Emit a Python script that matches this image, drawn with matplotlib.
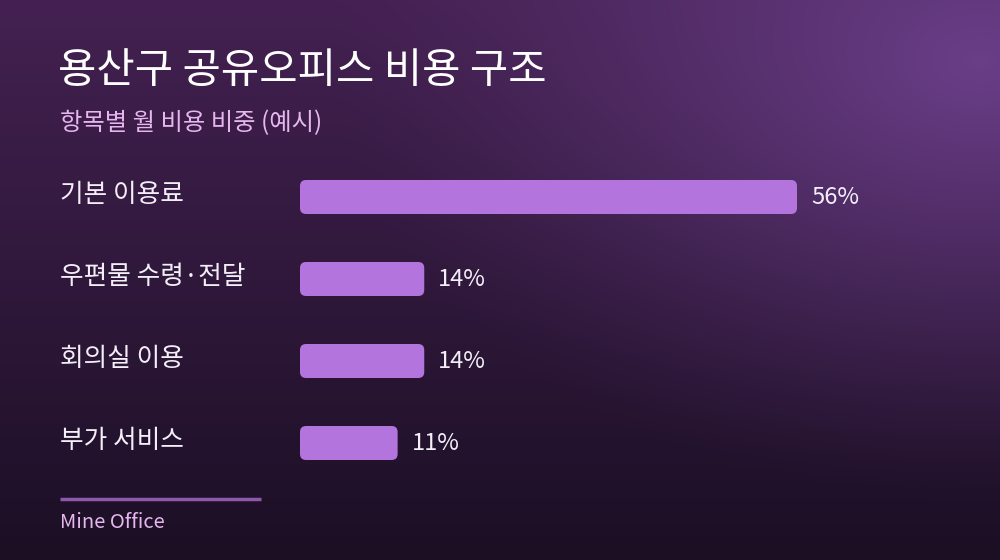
import matplotlib.pyplot as plt
import numpy as np
from matplotlib.patches import FancyBboxPatch
from matplotlib.transforms import blended_transform_factory

plt.rcParams['font.family'] = ['Noto Sans CJK KR', 'DejaVu Sans']

# 데이터
title = '용산구 공유오피스 비용 구조'
subtitle = '항목별 월 비용 비중 (예시)'
categories = ['기본 이용료', '우편물 수령·전달', '회의실 이용', '부가 서비스']
shares = [56, 14, 14, 11]
source = 'Mine Office'

W, H = 1000, 560
fig = plt.figure(figsize=(W / 100, H / 100), dpi=100)

# 배경 그라데이션
bg = fig.add_axes([0, 0, 1, 1])
yy, xx = np.mgrid[0:H, 0:W]
t = yy / H
top = np.array([0x44, 0x21, 0x52]) / 255
bot = np.array([0x1b, 0x0f, 0x24]) / 255
img = top[None, None, :] * (1 - t[..., None]) + bot[None, None, :] * t[..., None]
glow = np.array([0x6a, 0x3e, 0x88]) / 255
d = np.sqrt(((xx - 980) / 650.0) ** 2 + ((yy - 60) / 440.0) ** 2)
w = np.clip(1 - d, 0, 1) ** 1.3
img = img * (1 - w[..., None]) + glow[None, None, :] * w[..., None]
bg.imshow(img, extent=[0, W, H, 0], aspect='auto')
bg.set_xlim(0, W)
bg.set_ylim(H, 0)
bg.axis('off')

# 막대 영역 (0% -> x=300px, 1% = 8.875px)
px_per = 8.875
ax_w = 600
ax = fig.add_axes([300 / W, 1 - 484 / H, ax_w / W, 328 / H])
ax.set_xlim(0, ax_w / px_per)
ax.set_ylim(len(categories) - 0.5, -0.5)
ax.axis('off')

bar_h = 34 / 82
r = 6 / px_per
asp = (1 / 82) / (1 / px_per)
for i, v in enumerate(shares):
    p = FancyBboxPatch((0, i - bar_h / 2), v, bar_h,
                       boxstyle=f'round,pad=0,rounding_size={r}',
                       mutation_aspect=asp, fc='#b374dd', ec='none')
    ax.add_patch(p)
    ax.text(v + 14 / px_per, i, f'{v}%', va='center', ha='left',
            color='#f4eef8', fontsize=17)

lab_tr = blended_transform_factory(fig.transFigure, ax.transData)
for i, c in enumerate(categories):
    ax.text(60 / W, i - 0.02, c, transform=lab_tr, va='center', ha='left',
            color='#f4eef8', fontsize=18.5)

fig.text(58 / W, 1 - 71 / H, title, color='white', fontsize=30,
         fontweight='medium', va='center', ha='left')
fig.text(60 / W, 1 - 123 / H, subtitle, color='#e6b6ee', fontsize=17.5,
         va='center', ha='left')

bg.plot([60, 261], [499, 499], color='#8c58ae', lw=2.5, solid_capstyle='butt')
fig.text(60 / W, 1 - 522 / H, source, color='#e6b6ee', fontsize=14.5,
         va='center', ha='left')

plt.savefig('out.png', dpi=100)
